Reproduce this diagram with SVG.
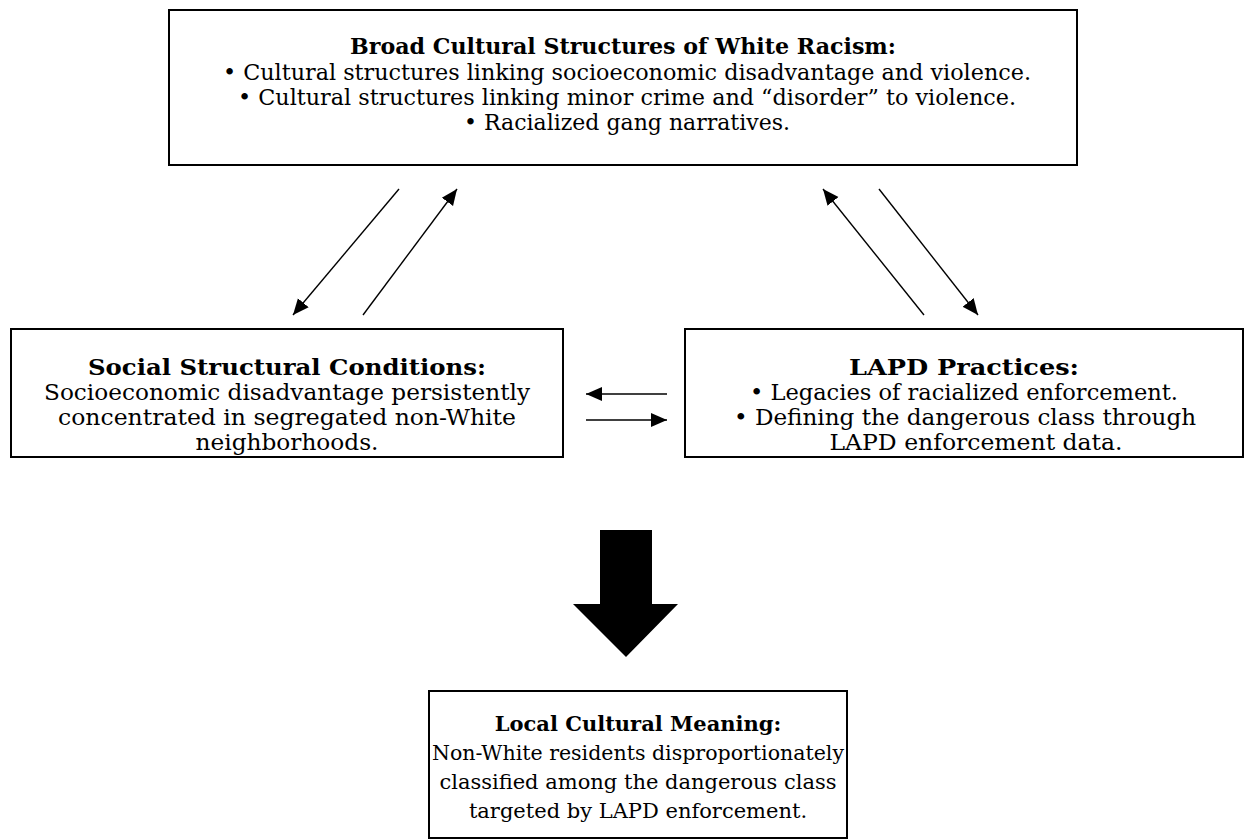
<svg xmlns="http://www.w3.org/2000/svg" width="1254" height="840" viewBox="0 0 1254 840">
<style>
.box{fill:#fff;stroke:#000;stroke-width:2}
text{font-family:"DejaVu Serif","Liberation Serif",serif;font-size:22px;fill:#000;text-anchor:middle}
.b{font-weight:bold}
.s{font-size:21px}
.m{font-size:23px}
.ln{stroke:#000;stroke-width:1.4;fill:none;marker-end:url(#ah)}
</style>
<defs>
<marker id="ah" markerUnits="userSpaceOnUse" markerWidth="18" markerHeight="16" refX="16" refY="7" orient="auto" viewBox="0 0 18 14">
<path d="M0,0 L16,7 L0,14 Z" fill="#000"/>
</marker>
</defs>
<rect width="1254" height="840" fill="#fff"/>
<g id="broad">
<rect class="box" x="169" y="10" width="908" height="155"/>
<text class="b" x="623" y="54" textLength="546" lengthAdjust="spacingAndGlyphs">Broad Cultural Structures of White Racism:</text>
<text x="627" y="80" textLength="808" lengthAdjust="spacingAndGlyphs">• Cultural structures linking socioeconomic disadvantage and violence.</text>
<text x="627" y="105" textLength="778" lengthAdjust="spacingAndGlyphs">• Cultural structures linking minor crime and “disorder” to violence.</text>
<text x="627" y="130">• Racialized gang narratives.</text>
</g>
<g id="social">
<rect class="box" x="11" y="329" width="552" height="128"/>
<text class="b m" x="287" y="375" textLength="398" lengthAdjust="spacingAndGlyphs">Social Structural Conditions:</text>
<text class="m" x="287" y="400" textLength="486" lengthAdjust="spacingAndGlyphs">Socioeconomic disadvantage persistently</text>
<text class="m" x="287" y="425" textLength="458" lengthAdjust="spacingAndGlyphs">concentrated in segregated non-White</text>
<text class="m" x="287" y="450" textLength="183" lengthAdjust="spacingAndGlyphs">neighborhoods.</text>
</g>
<g id="lapd">
<rect class="box" x="685" y="329" width="558" height="128"/>
<text class="b m" x="964" y="375" textLength="230" lengthAdjust="spacingAndGlyphs">LAPD Practices:</text>
<text class="m" x="964" y="400" textLength="428" lengthAdjust="spacingAndGlyphs">• Legacies of racialized enforcement.</text>
<text class="m" x="965" y="425" textLength="462" lengthAdjust="spacingAndGlyphs">• Defining the dangerous class through</text>
<text class="m" x="976" y="450" textLength="293" lengthAdjust="spacingAndGlyphs">LAPD enforcement data.</text>
</g>
<g id="local">
<rect class="box" x="429" y="691" width="418" height="147"/>
<text class="b s" x="638" y="731">Local Cultural Meaning:</text>
<text class="s" x="638" y="760" textLength="412" lengthAdjust="spacingAndGlyphs">Non-White residents disproportionately</text>
<text class="s" x="638" y="789">classified among the dangerous class</text>
<text class="s" x="638" y="818">targeted by LAPD enforcement.</text>
</g>
<g id="connectors">
<line class="ln" x1="399" y1="189" x2="293" y2="315"/>
<line class="ln" x1="363" y1="315" x2="457" y2="189"/>
<line class="ln" x1="924" y1="315" x2="823" y2="189"/>
<line class="ln" x1="879" y1="189" x2="978" y2="315"/>
<line class="ln" x1="667" y1="394" x2="586" y2="394"/>
<line class="ln" x1="586" y1="420" x2="667" y2="420"/>
<path id="bigarrow" d="M600,530 H652 V604 H678 L626,657 L573,604 H600 Z" fill="#000"/>
</g>
</svg>
